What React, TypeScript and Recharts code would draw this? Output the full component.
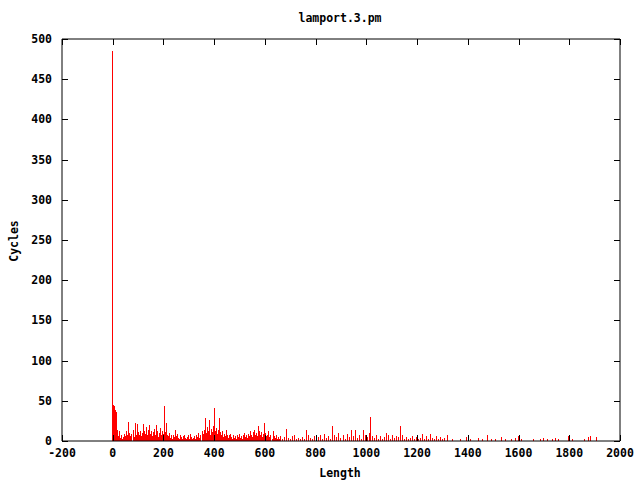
import React from "react";
import { ComposedChart, Bar, Line, XAxis, YAxis } from "recharts";

const lengths = [
  0, 4, 8, 12, 16, 20, 24, 28, 32, 36, 40, 44, 48, 52, 56, 60, 64, 68, 72, 76,
  80, 84, 88, 92, 96, 100, 104, 108, 112, 116, 120, 124, 128, 132, 136, 140, 144, 148, 152, 156,
  160, 164, 168, 172, 176, 180, 184, 188, 192, 196, 200, 204, 208, 212, 216, 220, 224, 228, 232, 236,
  240, 244, 248, 252, 256, 260, 264, 268, 272, 276, 280, 284, 288, 292, 296, 300, 304, 308, 312, 316,
  320, 324, 328, 332, 336, 340, 344, 348, 352, 356, 360, 364, 368, 372, 376, 380, 384, 388, 392, 396,
  400, 404, 408, 412, 416, 420, 424, 428, 432, 436, 440, 444, 448, 452, 456, 460, 464, 468, 472, 476,
  480, 484, 488, 492, 496, 500, 504, 508, 512, 516, 520, 524, 528, 532, 536, 540, 544, 548, 552, 556,
  560, 564, 568, 572, 576, 580, 584, 588, 592, 596, 600, 604, 608, 612, 616, 620, 624, 628, 632, 636,
  640, 644, 648, 652, 656, 660,
  668, 676, 684, 692, 700, 708, 716, 724, 732, 740, 748, 756, 764, 772, 780, 788, 796, 804, 812, 820,
  828, 836, 844, 852, 860, 868, 876, 884, 892, 900, 908, 916, 924, 932, 940, 948, 956, 964, 972, 980,
  988, 996, 1004, 1012, 1016, 1024, 1032, 1040, 1048, 1056, 1064, 1072, 1080, 1088, 1096, 1104, 1112, 1120, 1128, 1134,
  1142, 1150, 1158, 1166, 1174, 1182, 1190, 1198, 1206, 1214, 1222, 1230, 1238, 1246, 1254, 1262, 1270, 1278, 1286, 1294,
  1302, 1310, 1318,
  1340, 1372, 1396, 1412, 1442, 1456, 1479, 1494, 1510, 1534, 1548, 1572, 1588, 1600, 1612, 1660, 1685, 1700, 1716, 1732,
  1744, 1756, 1797, 1812, 1860, 1876, 1882, 1909,
];

const cycles = [
  485, 45, 43, 38, 36, 14, 6, 13, 4, 8, 3, 5, 9, 6, 12, 7, 24, 10, 6, 9,
  14, 5, 22, 8, 21, 11, 7, 13, 6, 10, 21, 12, 9, 18, 7, 14, 20, 9, 13, 6,
  11, 15, 8, 20, 12, 5, 10, 16, 7, 13, 9, 43, 11, 22, 8, 6, 10, 4, 7, 3,
  8, 5, 14, 6, 9, 4, 3, 7, 5, 2, 6, 8, 4, 3, 5, 7, 3, 9, 5, 2,
  4, 6, 3, 8, 5, 10, 4, 7, 12, 9, 14, 28, 10, 17, 12, 26, 8, 15, 11, 19,
  41, 13, 16, 9, 14, 29, 11, 7, 12, 5, 9, 6, 14, 8, 4, 7, 9, 5, 3, 8,
  4, 6, 3, 7, 5, 9, 4, 6, 3, 8, 10, 5, 7, 4, 9, 6, 13, 8, 5, 11,
  14, 7, 10, 6, 19, 12, 8, 11, 5, 9, 23, 10, 6, 8, 12, 5, 7, 3, 12, 6,
  4, 8, 3, 5, 2, 6,
  3, 5, 15, 4, 2, 6, 7, 3, 4, 2, 5, 3, 14, 8, 4, 2, 6, 3, 5, 7,
  3, 9, 4, 6, 3, 19, 8, 5, 10, 4, 7, 3, 9, 5, 14, 6, 14, 4, 7, 3,
  14, 8, 5, 10, 30, 6, 4, 8, 3, 6, 2, 5, 10, 7, 3, 8, 4, 6, 5, 19,
  7, 3, 5, 2, 4, 6, 3, 5, 2, 4, 9, 3, 6, 2, 9, 4, 3, 6, 2, 5,
  3, 4, 7,
  2, 3, 5, 2, 4, 3, 7, 3, 2, 5, 3, 2, 4, 6, 3, 2, 3, 4, 3, 2,
  4, 3, 6, 2, 3, 5, 6, 5,
];

const xTicks = [-200, 0, 200, 400, 600, 800, 1000, 1200, 1400, 1600, 1800, 2000];
const yTicks = [0, 50, 100, 150, 200, 250, 300, 350, 400, 450, 500];

const title = "lamport.3.pm";
const xLabel = "Length";
const yLabel = "Cycles";

const data = lengths.map((l, i) => ({ length: l, cycles: cycles[i] }));

const FONT = "'DejaVu Sans Mono', monospace";

const BottomTick = (props: any) => {
  const { x, y, payload } = props;
  const xx = Math.round(x) + 0.5;
  return (
    <g>
      <line x1={xx} y1={y} x2={xx} y2={y - 6} stroke="#000" />
      <text x={x} y={y + 16} textAnchor="middle" fontFamily={FONT} fontWeight="bold" fontSize={11.5} fill="#000">
        {payload.value}
      </text>
    </g>
  );
};

const TopTick = (props: any) => {
  const { x, y } = props;
  const xx = Math.round(x) + 0.5;
  return <line x1={xx} y1={y} x2={xx} y2={y + 6} stroke="#000" />;
};

const LeftTick = (props: any) => {
  const { x, y, payload } = props;
  const yy = Math.round(y) + 0.5;
  return (
    <g>
      <line x1={x} y1={yy} x2={x + 6} y2={yy} stroke="#000" />
      <text x={x - 10} y={y + 4} textAnchor="end" fontFamily={FONT} fontWeight="bold" fontSize={11.5} fill="#000">
        {payload.value}
      </text>
    </g>
  );
};

const RightTick = (props: any) => {
  const { x, y } = props;
  const yy = Math.round(y) + 0.5;
  return <line x1={x} y1={yy} x2={x - 6} y2={yy} stroke="#000" />;
};

const Impulse = (props: any) => {
  const { x, y, width, height } = props;
  if (!height || height <= 0) return null;
  const cx = Math.round(x + width / 2 - 0.5);
  return <rect x={cx} y={y} width={1} height={height} fill="#ff0000" shapeRendering="crispEdges" />;
};

export default function App() {
  return (
    <div style={{ position: "absolute", left: 0, top: 0, width: 640, height: 480, background: "#fff" }}>
      <ComposedChart
        width={640}
        height={480}
        data={data}
        margin={{ top: 38, right: 19, bottom: 9, left: 12 }}
        barCategoryGap={0}
      >
        <XAxis
          dataKey="length"
          type="number"
          domain={[-200, 2000]}
          ticks={xTicks}
          allowDataOverflow
          xAxisId="b"
          orientation="bottom"
          height={30}
          tickSize={0}
          tickMargin={0}
          tickLine={false}
          axisLine={{ stroke: "#000" }}
          tick={<BottomTick />}
          interval={0}
        />
        <XAxis
          dataKey="length"
          type="number"
          domain={[-200, 2000]}
          ticks={xTicks}
          allowDataOverflow
          xAxisId="t"
          orientation="top"
          height={1}
          tickSize={0}
          tickMargin={0}
          tickLine={false}
          axisLine={{ stroke: "#000" }}
          tick={<TopTick />}
          interval={0}
        />
        <YAxis
          type="number"
          domain={[0, 500]}
          ticks={yTicks}
          allowDataOverflow
          yAxisId="l"
          orientation="left"
          width={50}
          tickSize={0}
          tickMargin={0}
          tickLine={false}
          axisLine={{ stroke: "#000" }}
          tick={<LeftTick />}
          interval={0}
        />
        <YAxis
          type="number"
          domain={[0, 500]}
          ticks={yTicks}
          allowDataOverflow
          yAxisId="r"
          orientation="right"
          width={1}
          tickSize={0}
          tickMargin={0}
          tickLine={false}
          axisLine={{ stroke: "#000" }}
          tick={<RightTick />}
          interval={0}
        />
        <Bar
          dataKey="cycles"
          xAxisId="b"
          yAxisId="l"
          fill="#ff0000"
          barSize={1}
          shape={<Impulse />}
          isAnimationActive={false}
        />
        <Line
          dataKey="unusedMirror"
          xAxisId="t"
          yAxisId="r"
          stroke="transparent"
          strokeWidth={0}
          dot={false}
          activeDot={false}
          legendType="none"
          isAnimationActive={false}
        />
      </ComposedChart>
      <svg
        width={640}
        height={480}
        style={{ position: "absolute", left: 0, top: 0, pointerEvents: "none" }}
      >
        <text x={340} y={22} textAnchor="middle" fontFamily={FONT} fontWeight="bold" fontSize={11.5} fill="#000">
          {title}
        </text>
        <text x={340} y={477} textAnchor="middle" fontFamily={FONT} fontWeight="bold" fontSize={11.5} fill="#000">
          {xLabel}
        </text>
        <text
          x={18}
          y={241}
          textAnchor="middle"
          fontFamily={FONT}
          fontWeight="bold"
          fontSize={11.5}
          fill="#000"
          transform="rotate(-90 18 241)"
        >
          {yLabel}
        </text>
      </svg>
    </div>
  );
}
